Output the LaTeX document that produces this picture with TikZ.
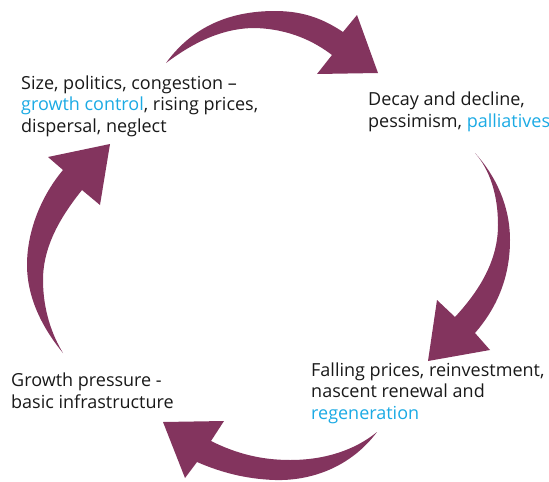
\documentclass[tikz,border=0pt]{standalone}
\usepackage{fontspec}
\setmainfont{Open Sans}
\definecolor{plum}{RGB}{131,52,94}
\definecolor{sky}{RGB}{27,170,228}
\begin{document}
\begin{tikzpicture}[x=1pt,y=-1pt,
  lbl/.style={anchor=base west,inner sep=0pt,align=left,
    font=\fontsize{18}{21.2}\selectfont,text=black!90},
  curl/.style={fill=plum,draw=none}]
\useasboundingbox (0,0) rectangle (549,482);
% top arrow
\fill[curl] (166,63) .. controls (190,30) and (225,11) .. (275,11)
  .. controls (305,11) and (325,20) .. (343,32)
  -- (357,15) -- (378,73) -- (317,74) -- (332,55)
  .. controls (315,42) and (290,29) .. (255,28)
  .. controls (220,28) and (190,45) .. (166,63) -- cycle;
% right arrow
\fill[curl] (475,153) .. controls (495,175) and (510,205) .. (510,240)
  .. controls (510,280) and (495,310) .. (475,333)
  -- (490,350) -- (428,361) -- (437,300) -- (455,317)
  .. controls (480,290) and (498,260) .. (498,225)
  .. controls (498,195) and (490,170) .. (475,153) -- cycle;
% bottom arrow
\fill[curl] (377,432) .. controls (350,468) and (310,481) .. (275,480)
  .. controls (245,479) and (220,472) .. (197,462)
  -- (185,478) -- (163,422) -- (224,421) -- (211,441)
  .. controls (235,453) and (260,460) .. (290,460)
  .. controls (325,460) and (355,450) .. (377,432) -- cycle;
% left arrow
\fill[curl] (63,353) .. controls (40,325) and (27,295) .. (27,265)
  .. controls (27,230) and (42,195) .. (63,170)
  -- (48,157) -- (110,144) -- (100,205) -- (82,190)
  .. controls (62,215) and (43,245) .. (43,280)
  .. controls (43,310) and (52,335) .. (63,353) -- cycle;
% labels (anchor is the baseline of the last line)
\node[lbl] (tl) at (21,132) {Size, politics, congestion --\\
  \textcolor{sky}{growth control}, rising prices,\\
  dispersal, neglect};
\node[lbl] (tr) at (368,127) {Decay and decline,\\
  pessimism, \textcolor{sky}{palliatives}};
\node[lbl] (br) at (311,419) {Falling prices, reinvestment,\\
  nascent renewal and\\
  \textcolor{sky}{regeneration}};
\node[lbl] (bl) at (11,408) {Growth pressure -\\
  basic infrastructure};
\end{tikzpicture}
\end{document}
